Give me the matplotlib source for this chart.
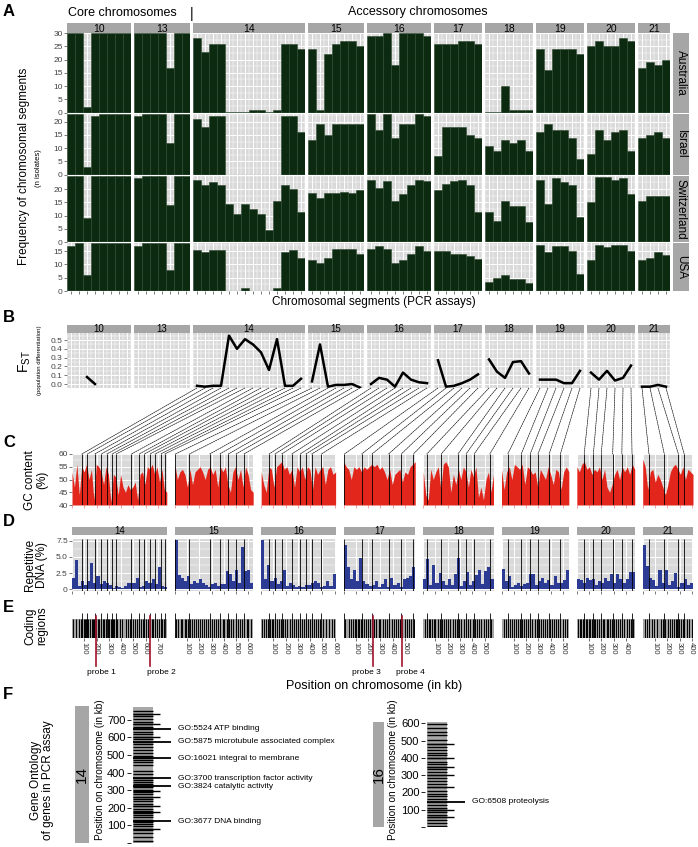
import numpy as np
import matplotlib.pyplot as plt
from matplotlib.patches import Rectangle, ConnectionPatch
from matplotlib.ticker import MultipleLocator

plt.rcParams['font.family'] = ['Liberation Sans', 'DejaVu Sans']
NARROW = ['Liberation Sans Narrow', 'Liberation Sans', 'DejaVu Sans']

# ---------------- data ----------------
chroms = ['10', '13', '14', '15', '16', '17', '18', '19', '20', '21']
countries = ['Australia', 'Israel', 'Switzerland', 'USA']
row_max = [30, 23, 25, 18]
row_ticks = [[0, 5, 10, 15, 20, 25, 30], [0, 5, 10, 15, 20], [0, 5, 10, 15, 20], [0, 5, 10, 15]]

# panel A: number of isolates with each segment (one list per chromosome)
australia = [[30, 30, 2, 30, 30, 30, 30, 30],
             [30, 30, 30, 30, 17, 30, 30],
             [28, 23, 26, 26, 0.2, 0.2, 0.2, 1, 1, 0.2, 1, 26, 26, 24],
             [24, 1, 22, 26, 27, 27, 25],
             [29, 29, 30, 18, 30, 30, 30, 29],
             [26, 26, 26, 27, 27, 26],
             [0.2, 0.2, 10, 1, 1, 1],
             [24, 16, 24, 24, 24, 22],
             [25, 27, 25, 25, 28, 27],
             [17, 19, 18, 20]]
israel = [[23, 23, 3, 22, 23, 23, 23, 23],
          [22, 23, 23, 23, 12, 23, 23],
          [21, 18, 22, 22, 0, 0, 0, 0, 0, 0, 0, 22, 22, 16],
          [13, 19, 15, 19, 19, 19, 19],
          [23, 17, 23, 14, 19, 19, 23, 22],
          [7, 18, 18, 18, 15, 14],
          [11, 9, 13, 12, 13, 9],
          [16, 19, 17, 17, 14, 6],
          [8, 17, 13, 16, 17, 9],
          [14, 15, 16, 14]]
switzerland = [[25, 25, 9, 25, 25, 25, 25, 25],
               [24, 25, 25, 25, 14, 25, 25],
               [23.5, 21.5, 22.5, 21.5, 14.5, 10.5, 14.5, 12.5, 10.5, 4.5, 15.5, 21.5, 20, 11.5],
               [18.5, 16.5, 18.5, 18.5, 19, 18.5, 19.5],
               [23.5, 20.5, 23, 15.5, 18, 21.5, 23.5, 23],
               [19.5, 22, 23, 23.5, 21.5, 11.5],
               [11.5, 8, 15.5, 13.5, 13.5, 7.5],
               [23.5, 14.5, 24, 22.5, 21.5, 9.5],
               [15, 24.5, 24.5, 23.5, 24, 18],
               [15.5, 17.5, 17.5, 17.5]]
usa = [[17, 18, 6, 18, 18, 18, 18, 18],
       [17, 18, 18, 18, 8, 18, 18],
       [15.5, 14.5, 15.5, 15.5, 0, 0, 1, 0, 0, 0, 1, 14.5, 15.5, 12.5],
       [11.5, 10.5, 12.5, 16, 16, 16, 14],
       [16, 17, 16, 10.5, 11.5, 14, 17, 15],
       [15, 15, 14, 14, 13, 12],
       [3.5, 5, 6, 4.5, 4.5, 3],
       [17.5, 14.5, 17, 17, 15, 6.5],
       [11.5, 17.5, 16.5, 17.5, 17.5, 15],
       [11.5, 12.5, 14.5, 13.5]]

# panel B: F_ST per segment
nan = np.nan
fst = [[nan, nan, 0.08, 0.0, nan, nan, nan, nan],
       [nan] * 7,
       [-0.02, -0.03, -0.02, -0.02, 0.55, 0.40, 0.51, 0.45, 0.36, 0.16, 0.51, -0.02, -0.02, 0.06],
       [0.03, 0.45, -0.03, -0.01, -0.01, 0.0, -0.04],
       [0.0, 0.07, 0.05, -0.03, 0.13, 0.05, 0.02, 0.01],
       [0.27, -0.03, -0.02, 0.01, 0.05, 0.11],
       [0.28, 0.14, 0.07, 0.25, 0.26, 0.12],
       [0.05, 0.05, 0.05, 0.01, 0.01, 0.15],
       [0.13, 0.05, 0.15, 0.04, 0.07, 0.21],
       [-0.03, -0.03, -0.01, -0.03]]

# accessory chromosomes (panels C-F)
acc = ['14', '15', '16', '17', '18', '19', '20', '21']
chrom_len = [773, 639, 607, 584, 573, 549, 472, 410]
assay_kb = [[80, 126, 186, 238, 284, 326, 361, 484, 547, 589, 634, 677, 722, 757],
            [5, 119, 285, 365, 436, 498, 563],
            [65, 112, 166, 249, 318, 365, 412, 491],
            [7, 147, 231, 367, 470, 569],
            [29, 147, 283, 349, 415, 543],
            [51, 161, 234, 297, 388, 480],
            [60, 135, 199, 292, 367, 450],
            [51, 176, 291, 338]]

gc = [[53, 47, 56, 44, 55, 53, 56, 50, 54, 42, 56, 55, 53, 48, 55, 52, 41, 52, 51, 44,
       52, 47, 45, 48, 46, 47, 49, 42, 52, 53, 48, 55, 54, 56, 52, 55, 49, 54, 46, 45],
      [56, 50, 53, 54, 52, 47, 54, 48, 53, 54, 55, 53, 50, 54, 55, 52, 54, 47, 55, 53,
       55, 48, 45, 53, 55, 50, 54, 47, 55, 52, 46, 45],
      [53, 48, 45, 55, 54, 47, 55, 56, 57, 54, 55, 52, 54, 47, 55, 53, 55, 50, 55, 54,
       46, 55, 52, 54, 55, 48, 54, 55, 52, 53],
      [57, 55, 54, 50, 55, 54, 55, 53, 55, 54, 55, 56, 55, 56, 54, 55, 53, 50, 54, 48,
       52, 53, 54, 49, 53, 52, 55, 56, 57],
      [53, 44, 42, 54, 50, 53, 55, 46, 56, 57, 55, 45, 52, 48, 54, 50, 55, 53, 47, 54,
       51, 55, 43, 47, 42, 50, 53, 45, 52],
      [54, 46, 53, 55, 50, 56, 55, 54, 56, 48, 55, 54, 52, 53, 47, 54, 52, 50, 55, 52,
       48, 54, 53, 46, 53, 55, 53],
      [55, 53, 56, 57, 54, 55, 52, 54, 53, 55, 50, 54, 47, 45, 48, 52, 54, 50, 55, 53,
       55, 52, 56, 54],
      [58, 55, 46, 53, 54, 49, 52, 50, 47, 44, 48, 53, 55, 56, 54, 52, 55, 50, 54, 53, 52]]

repeats = [[1.8, 4.5, 0.5, 1.2, 0.6, 1.3, 4.0, 1.0, 2.0, 0.8, 1.3, 0.9, 0.7, 0.1, 0.5, 0.3,
            0.2, 0.5, 1.0, 1.0, 1.0, 1.8, 0.3, 0.5, 1.2, 1.0, 1.5, 0.8, 3.5, 0.5, 0.4],
           [7.6, 2.2, 1.8, 1.2, 2.0, 0.8, 1.2, 1.0, 1.6, 0.9, 0.6, 0.3, 0.8, 1.0, 0.5, 0.8,
            0.8, 2.8, 2.4, 1.2, 2.9, 1.0, 6.5, 2.8, 2.9, 1.0],
           [7.7, 1.5, 3.7, 1.2, 1.8, 0.8, 1.3, 2.9, 0.5, 1.0, 0.6, 0.3, 0.5, 0.4, 0.7, 0.6,
            0.9, 1.2, 1.0, 0.3, 0.5, 1.2, 0.5, 2.4],
           [6.8, 3.5, 1.5, 3.0, 1.2, 4.8, 1.2, 0.8, 0.5, 0.7, 1.3, 0.4, 0.8, 1.5, 0.3, 1.8,
            0.6, 0.9, 0.3, 1.5, 1.8, 2.0, 3.5],
           [1.5, 4.7, 0.6, 3.8, 1.0, 2.5, 1.2, 0.7, 1.5, 0.6, 2.3, 4.8, 0.5, 1.2, 2.7, 0.6,
            1.2, 2.2, 3.0, 0.8, 2.8, 3.4, 1.5],
           [3.1, 1.2, 2.0, 0.3, 0.6, 1.0, 0.5, 0.8, 1.0, 2.3, 2.4, 0.7, 1.2, 1.8, 1.0, 1.4,
            0.6, 2.0, 1.0, 1.0, 1.4, 2.9],
           [1.5, 1.4, 1.0, 1.7, 1.4, 1.6, 0.6, 1.2, 0.9, 1.8, 1.2, 2.3, 1.0, 2.4, 1.6, 0.9,
            1.5, 2.7, 2.6],
           [6.8, 3.6, 1.8, 1.4, 0.5, 2.9, 1.0, 2.9, 0.6, 1.2, 2.5, 0.4, 1.0, 1.6, 0.6, 0.9]]

genes = [[12, 35, 58, 72, 80, 95, 108, 118, 124, 131, 148, 160, 172, 181, 195, 208, 222, 236,
          251, 262, 276, 290, 301, 318, 323, 334, 345, 358, 369, 392, 410, 441, 458, 472, 483,
          497, 512, 530, 548, 561, 575, 590, 603, 618, 633, 649, 662, 677, 690, 706, 722, 734, 752],
         [10, 30, 48, 62, 80, 95, 110, 128, 140, 158, 175, 190, 206, 222, 240, 255, 270, 290,
          305, 322, 340, 355, 372, 390, 405, 425, 442, 460, 478, 495, 515, 530, 548, 565, 585, 600, 620],
         [8, 25, 42, 58, 70, 85, 99, 112, 127, 145, 160, 178, 192, 210, 233, 248, 265, 282, 302,
          318, 335, 349, 362, 378, 400, 415, 430, 448, 465, 482, 505, 530, 552, 575, 595],
         [15, 40, 62, 75, 90, 102, 115, 128, 140, 152, 165, 180, 200, 218, 232, 250, 268, 285,
          300, 318, 335, 352, 370, 392, 410, 428, 445, 462, 480, 498, 515, 535, 552, 570],
         [12, 30, 45, 58, 70, 88, 100, 118, 135, 150, 168, 185, 205, 222, 240, 258, 275, 295,
          312, 330, 348, 365, 385, 402, 420, 438, 455, 475, 495, 512, 530, 550],
         [18, 35, 52, 68, 85, 100, 118, 132, 150, 168, 185, 200, 218, 235, 252, 270, 288, 305,
          322, 340, 358, 375, 392, 410, 428, 445, 462, 480, 500, 520, 538],
         [10, 22, 35, 48, 60, 72, 85, 98, 110, 125, 138, 152, 165, 180, 195, 210, 225, 242, 258,
          272, 290, 305, 320, 338, 352, 370, 388, 405, 422, 440, 458],
         [15, 35, 55, 75, 95, 120, 145, 165, 185, 205, 222, 238, 252, 268, 282, 295, 310, 325,
          340, 360, 380, 398]]

probe_chrom = ['14', '14', '17', '17']
probe_kb = [197, 640, 238, 476]
probe_name = ['probe 1', 'probe 2', 'probe 3', 'probe 4']

go14_kb = [649, 575, 483, 369, 323, 124]
go14_terms = ['GO:5524 ATP binding', 'GO:5875 microtubule associated complex',
              'GO:16021 integral to membrane', 'GO:3700 transcription factor activity',
              'GO:3824 catalytic activity', 'GO:3677 DNA binding']
go14_other = [734, 677, 603, 295, 260, 209, 175, 78]
go16_kb = [145]
go16_terms = ['GO:6508 proteolysis']
go16_other = [482, 400, 349, 302, 233, 99, 58]

# ---------------- layout helpers ----------------
W, H = 698, 847
fig = plt.figure(figsize=(W / 100, H / 100), dpi=100)
BG = '#d9d9d9'
STRIP = '#a6a6a6'
GREEN = '#0b2a10'
RED = '#e3261c'
BLUE = '#2c3b94'


def box(x0, y0, x1, y1):
    return fig.add_axes([x0 / W, 1 - y1 / H, (x1 - x0) / W, (y1 - y0) / H])


def ftext(x, y, s, **kw):
    kw.setdefault('ha', 'center')
    kw.setdefault('va', 'center')
    fig.text(x / W, 1 - y / H, s, **kw)


def split(a, b, sizes, gap):
    unit = (b - a - gap * (len(sizes) - 1)) / sum(sizes)
    out, pos = [], a
    for s in sizes:
        out.append((pos, pos + s * unit))
        pos += s * unit + gap
    return out


def strip(x0, y0, x1, y1, label, rot=0, size=7.5, family=None):
    s = box(x0, y0, x1, y1)
    s.set_facecolor(STRIP)
    s.set_xticks([])
    s.set_yticks([])
    for sp in s.spines.values():
        sp.set_visible(False)
    s.text(0.5, 0.45 if rot == 0 else 0.5, label, ha='center', va='center', rotation=rot,
           fontsize=size, transform=s.transAxes, family=family)
    return s


def style(ax):
    ax.set_facecolor(BG)
    for sp in ax.spines.values():
        sp.set_visible(False)
    ax.tick_params(which='both', length=2, width=0.5, colors='#444444', labelsize=6, pad=1)
    ax.tick_params(which='minor', length=0)
    ax.grid(True, which='major', color='white', lw=0.7)
    ax.grid(True, which='minor', color='white', lw=0.35)
    ax.set_axisbelow(True)


# ---------------- panel A ----------------
colsA = split(67, 670, [len(v) for v in australia], 3)
rowsA = split(33, 291, row_max, 1)
dataA = [australia, israel, switzerland, usa]
for r, (y0, y1) in enumerate(rowsA):
    for c, (x0, x1) in enumerate(colsA):
        ax = box(x0, y0, x1, y1)
        style(ax)
        vals = dataA[r][c]
        ax.bar(range(len(vals)), vals, width=1, color=GREEN, edgecolor='#2f4a33', linewidth=0.4)
        ax.axhline(0, color='#8fb898', lw=0.9)
        ax.set_xlim(-0.5, len(vals) - 0.5)
        ax.set_ylim(0, row_max[r])
        ax.xaxis.set_major_locator(MultipleLocator(1))
        ax.xaxis.set_minor_locator(MultipleLocator(0.5))
        ax.set_yticks(row_ticks[r])
        ax.yaxis.set_minor_locator(MultipleLocator(2.5))
        ax.tick_params(axis='x', labelbottom=False, bottom=(r == 3))
        if c > 0:
            ax.tick_params(axis='y', labelleft=False, left=False)
        if r == 0:
            strip(x0, 23, x1, 33, chroms[c])
    strip(673, y0, 689, y1, countries[r], rot=-90, size=8.5)

ftext(3, 12, 'A', ha='left', fontsize=12, weight='bold')
ftext(68, 13, 'Core chromosomes', ha='left', fontsize=9)
ftext(192, 14, '|', fontsize=10)
ftext(348, 12, 'Accessory chromosomes', ha='left', fontsize=9)
ftext(24, 166, 'Frequency of chromosomal segments', rotation=90, fontsize=8.5)
ftext(39, 168, '(n isolates)', rotation=90, fontsize=5.5)
ftext(374, 302, 'Chromosomal segments (PCR assays)', fontsize=8.5)

# ---------------- panel B ----------------
axB = []
for c, (x0, x1) in enumerate(colsA):
    ax = box(x0, 333, x1, 388)
    style(ax)
    vals = fst[c]
    ax.plot(range(len(vals)), vals, color='black', lw=1.8)
    ax.set_xlim(-0.5, len(vals) - 0.5)
    ax.set_ylim(-0.045, 0.58)
    ax.xaxis.set_major_locator(MultipleLocator(1))
    ax.xaxis.set_minor_locator(MultipleLocator(0.5))
    ax.set_yticks([0, 0.1, 0.2, 0.3, 0.4, 0.5])
    ax.yaxis.set_minor_locator(MultipleLocator(0.05))
    ax.tick_params(axis='x', labelbottom=False, bottom=False)
    if c > 0:
        ax.tick_params(axis='y', labelleft=False, left=False)
    else:
        ax.set_yticklabels(['0.0', '0.1', '0.2', '0.3', '0.4', '0.5'])
    strip(x0, 325, x1, 333, chroms[c], size=7, family=NARROW)
    axB.append(ax)

ftext(3, 318, 'B', ha='left', fontsize=12, weight='bold')
ftext(25, 362, r'F$_{\mathregular{ST}}$', rotation=90, fontsize=10)
ftext(40, 360, '(population differentiation)', rotation=90, fontsize=4.3)

# ---------------- panels C, D, E ----------------
colsC = split(72, 693, chrom_len, 8)
kb_px = (colsC[0][1] - colsC[0][0]) / chrom_len[0]
probe_dx = [5, 11, -6, 8]   # label offsets in pixels
for k, (x0, x1) in enumerate(colsC):
    L = chrom_len[k]
    # C: GC content
    axc = box(x0, 454, x1, 505)
    style(axc)
    xs = np.linspace(0, L, len(gc[k]))
    axc.fill_between(xs, 40, gc[k], color=RED, lw=0)
    axc.vlines(assay_kb[k], 40, 60, color='black', lw=0.6)
    axc.set_xlim(0, L)
    axc.set_ylim(40, 60)
    axc.set_yticks([40, 45, 50, 55, 60])
    axc.xaxis.set_major_locator(MultipleLocator(100))
    axc.yaxis.set_minor_locator(MultipleLocator(2.5))
    axc.tick_params(axis='x', labelbottom=False, colors='#e88080')
    if k > 0:
        axc.tick_params(axis='y', labelleft=False, left=False)

    # dashed connectors from F_ST points to assay positions
    bi = chroms.index(acc[k])
    for i, kb in enumerate(assay_kb[k]):
        con = ConnectionPatch(xyA=(i, -0.045), coordsA=axB[bi].transData,
                              xyB=(kb, 60), coordsB=axc.transData,
                              color='black', lw=0.45, linestyle=(0, (2.5, 1.2)))
        fig.add_artist(con)

    # D: repetitive DNA
    axd = box(x0, 539, x1, 591)
    style(axd)
    n = len(repeats[k])
    step = L / n
    axd.bar((np.arange(n) + 0.5) * step, repeats[k], width=step, color=BLUE, lw=0)
    axd.vlines(assay_kb[k], -0.3, 7.8, color='black', lw=0.6)
    axd.set_xlim(0, L)
    axd.set_ylim(-0.3, 7.8)
    axd.set_yticks([0, 2.5, 5, 7.5])
    axd.yaxis.set_minor_locator(MultipleLocator(1.25))
    axd.xaxis.set_major_locator(MultipleLocator(100))
    axd.tick_params(axis='x', labelbottom=False)
    if k > 0:
        axd.tick_params(axis='y', labelleft=False, left=False)
    else:
        axd.set_yticklabels(['0', '2.5', '5.0', '7.5'])
    strip(x0, 527, x1, 535, acc[k], size=7, family=NARROW)

    # E: coding regions
    axe = box(x0, 613, x1, 638)
    for sp in axe.spines.values():
        sp.set_visible(False)
    axe.add_patch(Rectangle((0, 0), L, 1, color='#a3a3a3', lw=0))
    axe.vlines(genes[k], 0, 1, color='black', lw=0.7)
    axe.vlines(assay_kb[k], 0, 1.3, color='black', lw=0.6)
    axe.set_xlim(0, L)
    axe.set_ylim(0, 1.3)
    axe.set_yticks([])
    ticks = list(range(100, L, 100))
    axe.set_xticks(ticks)
    axe.set_xticklabels([str(t) for t in ticks], rotation=-90, fontsize=5.5, family=NARROW)
    axe.tick_params(axis='x', length=2, width=0.5, pad=1, colors='#333333')
    for pc, pk, pn, dx in zip(probe_chrom, probe_kb, probe_name, probe_dx):
        if pc == acc[k]:
            axe.plot([pk, pk], [1.15, -1.45], color='#a3132c', lw=1.2, clip_on=False)
            axe.text(pk + dx / kb_px, -1.6, pn, ha='center', va='top', fontsize=6,
                     family=NARROW)

ftext(3, 442, 'C', ha='left', fontsize=12, weight='bold')
ftext(36, 480, 'GC content\n(%)', rotation=90, fontsize=8.5, linespacing=1.0)
ftext(3, 521, 'D', ha='left', fontsize=12, weight='bold')
ftext(36, 565, 'Repetitive\nDNA (%)', rotation=90, fontsize=8.5, linespacing=1.0)
ftext(3, 607, 'E', ha='left', fontsize=12, weight='bold')
ftext(36, 626, 'Coding\nregions', rotation=90, fontsize=8.5, linespacing=1.0)
ftext(374, 686, 'Position on chromosome (in kb)', fontsize=9)

# ---------------- panel F ----------------
ftext(3, 694, 'F', ha='left', fontsize=12, weight='bold')
ftext(42, 780, 'Gene Ontology\nof genes in PCR assay', rotation=90, fontsize=8.5, linespacing=1.1)


def gene_map(x0, y0, x1, y1, k, go_kb, go_terms, go_other, label, lx, ly, bar_x):
    L = chrom_len[k]
    strip(bar_x[0], bar_x[1], bar_x[2], bar_x[3], label, rot=90, size=11)
    ftext(lx, ly, 'Position on chromosome (in kb)', rotation=90, fontsize=7.2)
    ax = box(x0, y0, x1, y1)
    for sp in ax.spines.values():
        sp.set_visible(False)
    ax.set_xlim(0, x1 - x0)
    ax.set_ylim(0, L)
    ax.add_patch(Rectangle((2, 0), 20, L, color='#a8a8a8', lw=0))
    ax.hlines(genes[k], 2, 22, color='black', lw=1.0)
    ax.hlines(go_other, 2, 29, color='black', lw=1.0)
    ax.hlines(go_kb, 2, 40, color='black', lw=1.3)
    for kb, term in zip(go_kb, go_terms):
        ax.text(47, kb, term, va='center', ha='left', fontsize=6, family=NARROW)
    ticks = list(range(0, L, 100))
    ax.set_yticks(ticks)
    ax.set_yticklabels([''] + [str(t) for t in ticks[1:]], fontsize=8)
    ax.tick_params(axis='y', length=3, width=0.6, pad=1)
    ax.set_xticks([])


gene_map(131, 707, 330, 843, acc.index('14'), go14_kb, go14_terms, go14_other, '14', 100, 770,
         (75, 706, 89, 843))
gene_map(425, 722, 620, 827, acc.index('16'), go16_kb, go16_terms, go16_other, '16', 393, 770,
         (373, 722, 384, 827))

fig.savefig('out.png', dpi=100)
